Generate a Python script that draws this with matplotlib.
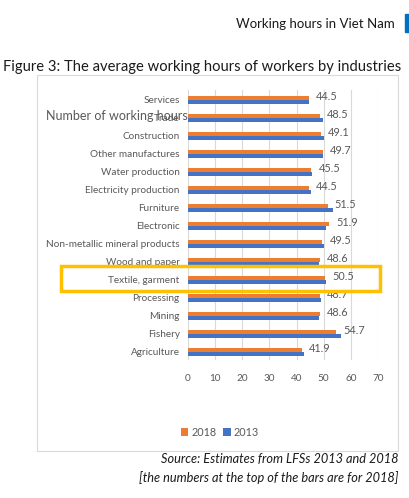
import matplotlib
matplotlib.use("Agg")
import matplotlib.pyplot as plt
from matplotlib.patches import Rectangle
import numpy as np

categories = ["Services", "Trade", "Construction", "Other manufactures", "Water production",
              "Electricity production", "Furniture", "Electronic", "Non-metallic mineral products",
              "Wood and paper", "Textile, garment", "Processing", "Mining", "Fishery", "Agriculture"]
hours_2018 = [44.5, 48.5, 49.1, 49.7, 45.5, 44.5, 51.5, 51.9, 49.5, 48.6, 50.5, 48.7, 48.6, 54.7, 41.9]
hours_2013 = [44.5, 49.6, 50.0, 49.7, 45.8, 45.5, 53.6, 50.8, 50.2, 48.2, 50.9, 49.1, 48.3, 56.3, 42.6]
xticks = [0, 10, 20, 30, 40, 50, 60, 70]

plt.rcParams['font.family'] = ['Lato', 'DejaVu Sans']
W, H = 410, 498
fig = plt.figure(figsize=(W/100, H/100), dpi=100)

def fx(px): return px / W
def fy(py): return 1 - py / H

# chart frame
fig.patches.append(Rectangle((fx(37), fy(451)), fx(398) - fx(37), fy(75) - fy(451),
                             transform=fig.transFigure, fill=False, edgecolor='#d9d9d9', lw=0.8))

ax = fig.add_axes([fx(188), fy(360), fx(378) - fx(188), fy(90) - fy(360)])
y = np.arange(len(categories))
bh = 0.24
orange = '#ED7D31'
blue = '#4472C4'
ax.barh(y - bh/2, hours_2018, height=bh, color=orange, label='2018', zorder=3)
ax.barh(y + bh/2, hours_2013, height=bh, color=blue, label='2013', zorder=3)
ax.set_ylim(len(categories) - 0.55, -0.55)
ax.set_xlim(0, 70)
ax.set_xticks(xticks)
ax.set_yticks(y)
ax.set_yticklabels(categories)
ax.tick_params(axis='both', length=0, labelsize=7.2, colors='#595959')
ax.tick_params(axis='x', pad=10)
ax.tick_params(axis='y', pad=6)
ax.grid(axis='x', color='#d9d9d9', lw=0.8, zorder=0)
for s in ax.spines.values():
    s.set_visible(False)

for yi, v in zip(y, hours_2018):
    ax.text(v + 2.6, yi - bh/2 - 0.05, f"{v}", va='center', ha='left', fontsize=7.8, color='#595959')

# axis title overlapping the labels
fig.text(fx(46), fy(116), "Number of working hours", fontsize=9, color='#595959', va='center', ha='left')

# highlight box
fig.patches.append(Rectangle((fx(61), fy(290.5)), fx(380) - fx(61), fy(266) - fy(290.5),
                             transform=fig.transFigure, fill=False, edgecolor='#FFC000', lw=2.5))

# legend
leg = fig.legend(loc='center', bbox_to_anchor=(fx(220), fy(432)), ncol=2, frameon=False,
                 fontsize=7.8, handlelength=0.7, handleheight=0.7, columnspacing=0.6,
                 handletextpad=0.3)
for t in leg.get_texts():
    t.set_color('#595959')

# header
fig.text(fx(395), fy(24), "Working hours in Viet Nam", fontsize=9.5, ha='right', va='center', color='#1a1a1a')
fig.patches.append(Rectangle((fx(405), fy(32)), fx(5), fy(14) - fy(32),
                             transform=fig.transFigure, color='#0070C0'))
fig.text(fx(3), fy(67), "Figure 3: The average working hours of workers by industries",
         fontsize=10.6, ha='left', va='center', color='#1a1a1a')

fig.text(fx(399), fy(459), "Source: Estimates from LFSs 2013 and 2018", fontsize=9.2,
         style='italic', ha='right', va='center', color='#1a1a1a')
fig.text(fx(399), fy(478), "[the numbers at the top of the bars are for 2018]", fontsize=9.2,
         style='italic', ha='right', va='center', color='#1a1a1a')

fig.savefig("out.png", dpi=100)
